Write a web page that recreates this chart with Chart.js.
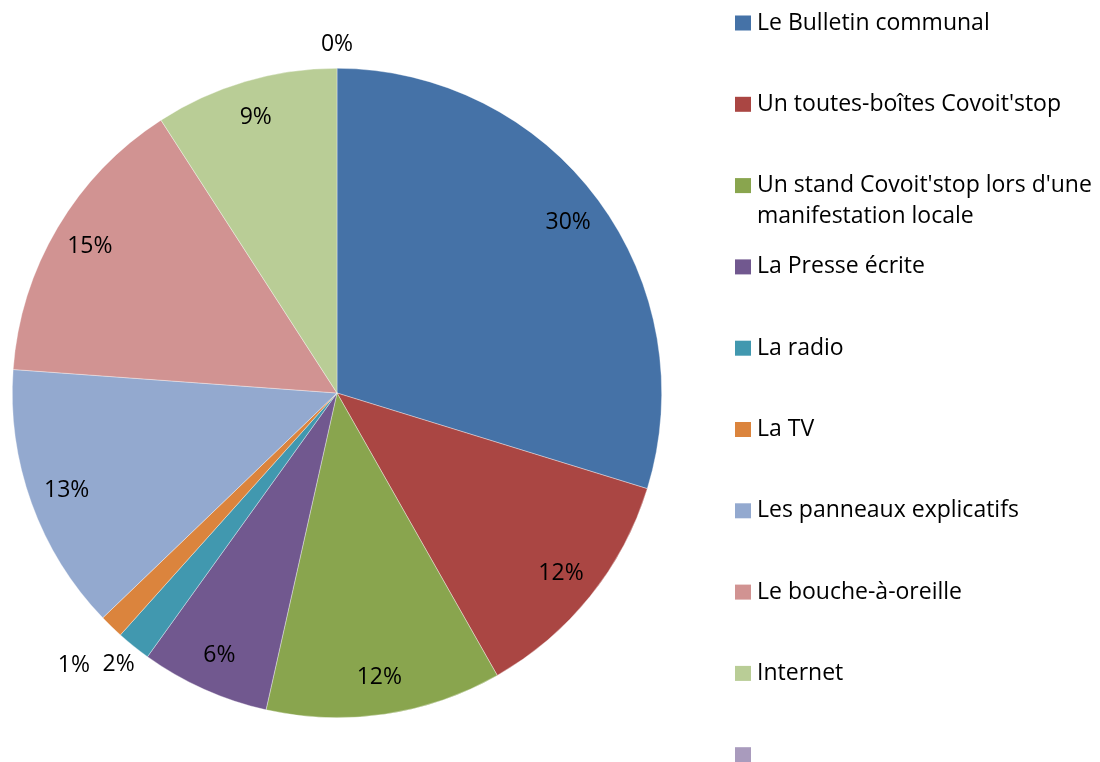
<!DOCTYPE html>
<html>
<head>
<meta charset="utf-8">
<script src="https://cdn.jsdelivr.net/npm/chart.js@4/dist/chart.umd.min.js"></script>
<style>
html,body{margin:0;padding:0;background:#fff;}
#wrap{width:1100px;height:762px;position:relative;}
</style>
</head>
<body>
<div id="wrap"><canvas id="c" width="1100" height="762"></canvas></div>
<script>
const categories = [
  "Le Bulletin communal",
  "Un toutes-boîtes Covoit'stop",
  ["Un stand Covoit'stop lors d'une", "manifestation locale"],
  "La Presse écrite",
  "La radio",
  "La TV",
  "Les panneaux explicatifs",
  "Le bouche-à-oreille",
  "Internet",
  ""
];
const values = [29.7, 12.0, 11.7, 6.4, 1.7, 1.2, 13.3, 14.7, 9.1, 0];
const colors = ["#4572A7", "#AA4643", "#89A54E", "#71588F", "#4198AF", "#DB843D", "#93A9CF", "#D19392", "#B9CD96", "#A99BBD"];

const FONT = "'Open Sans', Lato, sans-serif";

const labelPlugin = {
  id: 'sliceLabels',
  afterDatasetsDraw(chart) {
    const ctx = chart.ctx;
    const meta = chart.getDatasetMeta(0);
    const data = chart.data.datasets[0].data;
    const total = data.reduce((a, b) => a + b, 0);
    const placed = [];
    ctx.save();
    ctx.font = "23px " + FONT;
    ctx.fillStyle = "#000";
    ctx.textAlign = "center";
    ctx.textBaseline = "middle";
    meta.data.forEach((arc, i) => {
      const p = arc.getProps(['x', 'y', 'startAngle', 'endAngle', 'outerRadius'], true);
      const share = data[i] / total * 100;
      const txt = Math.round(share) + "%";
      const mid = (p.startAngle + p.endAngle) / 2;
      const w = ctx.measureText(txt).width;
      const h = 20;
      if (share >= 5) {
        const r = p.outerRadius * 0.885;
        ctx.fillText(txt, p.x + Math.cos(mid) * r, p.y + Math.sin(mid) * r);
      } else {
        let r = p.outerRadius + 24;
        let cx, cy, box;
        const pad = 6;
        for (let k = 0; k < 60; k++) {
          cx = p.x + Math.cos(mid) * r;
          cy = p.y + Math.sin(mid) * r;
          box = {x1: cx - w / 2 - pad, x2: cx + w / 2 + pad, y1: cy - h / 2 - pad, y2: cy + h / 2 + pad};
          const hit = placed.some(b => !(box.x2 < b.x1 || box.x1 > b.x2 || box.y2 < b.y1 || box.y1 > b.y2));
          if (!hit) break;
          r += 2;
        }
        placed.push(box);
        ctx.fillText(txt, cx, cy);
      }
    });
    ctx.restore();
  }
};

const legendPlugin = {
  id: 'sideLegend',
  afterDraw(chart) {
    const ctx = chart.ctx;
    const labels = chart.data.labels;
    const cols = chart.data.datasets[0].backgroundColor;
    ctx.save();
    ctx.font = "23px " + FONT;
    ctx.fillStyle = "#000";
    ctx.textAlign = "left";
    ctx.textBaseline = "middle";
    const x0 = 735, y0 = 23, step = 81.3, lineH = 31;
    labels.forEach((lab, i) => {
      const y = y0 + i * step;
      ctx.fillStyle = cols[i];
      ctx.fillRect(x0, y - 7.5, 16, 15);
      ctx.fillStyle = "#000";
      const lines = Array.isArray(lab) ? lab : [lab];
      lines.forEach((ln, j) => ctx.fillText(ln, x0 + 22, y + j * lineH));
    });
    ctx.restore();
  }
};

new Chart(document.getElementById('c'), {
  type: 'pie',
  data: {
    labels: categories,
    datasets: [{
      data: values,
      backgroundColor: colors,
      borderColor: "rgba(255,255,255,0.6)",
      borderWidth: 0.6
    }]
  },
  options: {
    responsive: false,
    animation: false,
    layout: { padding: { left: 12, top: 68, right: 438, bottom: 44 } },
    plugins: {
      legend: { display: false },
      tooltip: { enabled: false }
    }
  },
  plugins: [labelPlugin, legendPlugin]
});
</script>
</body>
</html>
